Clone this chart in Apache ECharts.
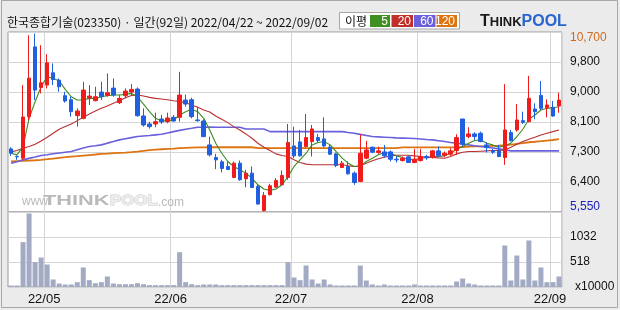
<!DOCTYPE html>
<html><head><meta charset="utf-8">
<script src="https://cdn.jsdelivr.net/npm/echarts@6/dist/echarts.min.js"></script>
<style>html,body{margin:0;padding:0;background:#ebebeb}#c{width:620px;height:310px}</style>
</head><body><div id="c"></div>
<script>
const title = '한국종합기술(023350) · 일간(92일) 2022/04/22 ~ 2022/09/02';
const dates = ['04/22','04/25','04/26','04/27','04/28','04/29',
'05/02','05/03','05/04','05/06','05/09','05/10','05/11','05/12','05/13','05/16','05/17','05/18','05/19','05/20','05/23','05/24','05/25','05/26','05/27','05/30','05/31',
'06/02','06/03','06/07','06/08','06/09','06/10','06/13','06/14','06/15','06/16','06/17','06/20','06/21','06/22','06/23','06/24','06/27','06/28','06/29','06/30',
'07/01','07/04','07/05','07/06','07/07','07/08','07/11','07/12','07/13','07/14','07/15','07/18','07/19','07/20','07/21','07/22','07/25','07/26','07/27','07/28','07/29',
'08/01','08/02','08/03','08/04','08/05','08/08','08/09','08/10','08/11','08/12','08/16','08/17','08/18','08/19','08/22','08/23','08/24','08/25','08/26','08/29','08/30','08/31',
'09/01','09/02'];
const open = [7356,7140,7090,8278,10274,9114,9181,9532,9323,8877,
8763,8307,8230,8810,8734,8981,8886,9095,8677,8877,
8981,9067,8297,8069,8069,8211,8135,8259,8259,8753,
8763,8183,8154,7470,7109,6985,6852,6539,6947,6500,
6662,6282,5588,6044,6263,6329,6539,7441,7556,7422,
7565,7679,7641,7403,7213,6824,6852,6662,6424,7090,
7403,7251,7270,7270,7061,7023,7128,6966,7023,7137,
7109,7299,7175,7204,7308,8211,7708,7784,7803,7470,
7308,7299,7109,7822,7898,8164,8135,8497,8886,8535,
8544,8582];
const close = [7232,7128,8268,9380,9038,9247,9818,9342,9133,8725,
8421,8440,9038,8867,8848,8848,8962,8896,8801,9010,
9057,8306,8040,7993,8135,8126,8240,8154,8896,8639,
8278,8164,7708,7185,7042,6795,6767,6947,6472,6662,
6253,5778,6025,6301,6453,6596,7537,7156,7156,7679,
7926,7594,7441,7204,6881,6947,6643,6396,7232,7327,
7261,7299,7156,7061,7042,7090,6966,7061,7137,7099,
7299,7156,7232,7299,7679,7489,7784,7708,7565,7394,
7261,7137,7898,7594,8183,8116,8801,8421,8516,8611,
8297,8753];
const low = [7156,7042,7042,8183,8753,8943,9086,9181,8991,8678,
8278,7993,8202,8610,8715,8753,8848,8848,8639,8801,
8896,8278,7993,7936,7974,8069,8088,8135,8135,8563,
8230,8135,7689,7137,6776,6681,6757,6520,6443,6253,
6234,5759,5569,6025,6234,6310,6472,7090,7137,7394,
7137,7537,7403,7185,6833,6805,6615,6329,6405,7061,
7232,7213,7109,6995,6966,6995,6957,6947,6995,7042,
7080,7118,7118,7156,7185,7422,7660,7613,7546,7251,
7213,7118,6900,7565,7850,8069,8116,8202,8468,8259,
8278,8392];
const high = [7403,7166,9181,10607,10654,10322,10065,9799,9371,8991,
8858,8516,9276,9181,9133,9276,9514,9371,8896,9086,
9209,9114,8516,8135,8392,8326,8392,8326,9561,8909,
8820,8563,8202,7708,7213,7042,6995,6995,7023,6757,
6852,6329,6120,6358,6519,6738,8069,7993,7898,8354,
8040,7784,8259,7470,7251,7014,6995,6710,7774,7584,
7422,7422,7470,7308,7156,7137,7156,7356,7356,7185,
7327,7422,7280,7375,7774,8211,7974,7831,7850,7546,
7356,7470,9209,7898,8639,8420,9447,8658,9295,8772,
8725,8962];
const ma5 = [7232,7185,7422,8230,8706,9133,9418,9371,9304,9057,
8848,8753,8753,8801,8801,8848,8877,8896,8896,8915,
8943,8848,8639,8420,8230,8154,8164,8183,8326,8420,
8487,8420,8230,7898,7518,7232,6995,6852,6757,6662,
6520,6329,6206,6168,6206,6329,6567,6852,7042,7232,
7470,7537,7565,7470,7280,7090,6947,6852,6852,6995,
7090,7185,7251,7232,7156,7109,7061,7042,7090,7118,
7137,7137,7156,7232,7346,7422,7518,7594,7613,7518,
7470,7403,7441,7518,7708,7917,8202,8326,8468,8516,
8535,8563];
const ma20 = [7270,7308,7375,7422,7489,7584,7689,7803,7917,7993,
8069,8164,8259,8354,8440,8516,8582,8658,8734,8820,
8886,8896,8867,8829,8801,8782,8763,8734,8715,8677,
8611,8544,8468,8411,8297,8202,8107,7993,7898,7784,
7660,7518,7403,7308,7213,7166,7137,7042,6966,6919,
6900,6900,6900,6900,6900,6900,6871,6852,6881,6947,
7014,7071,7118,7156,7175,7175,7175,7156,7137,7118,
7109,7099,7090,7137,7213,7261,7280,7280,7290,7299,
7308,7308,7327,7403,7489,7565,7632,7689,7755,7803,
7850,7898];
const ma60 = [6947,6990,7042,7085,7125,7166,7190,7215,7240,7260,
7280,7330,7380,7422,7445,7470,7520,7565,7613,7645,
7677,7708,7725,7740,7757,7774,7812,7850,7885,7917,
7945,7974,7974,7980,7974,7974,7974,7974,7974,7926,
7926,7926,7926,7850,7850,7850,7850,7850,7850,7850,
7850,7850,7850,7850,7850,7850,7826,7803,7770,7740,
7708,7700,7690,7680,7670,7665,7660,7655,7640,7625,
7613,7590,7565,7540,7518,7495,7470,7447,7425,7403,
7380,7356,7330,7299,7299,7299,7299,7299,7299,7299,
7299,7299];
const ma120 = [7000,7005,7010,7020,7030,7042,7060,7080,7100,7118,
7137,7150,7165,7180,7195,7213,7222,7232,7242,7251,
7261,7280,7300,7320,7335,7346,7356,7365,7375,7385,
7394,7398,7400,7403,7403,7403,7403,7403,7403,7403,
7403,7380,7380,7380,7380,7380,7380,7380,7380,7380,
7380,7380,7380,7380,7380,7380,7380,7380,7380,7380,
7380,7380,7380,7380,7380,7400,7400,7400,7400,7400,
7400,7400,7400,7400,7400,7410,7420,7425,7430,7435,
7440,7445,7460,7480,7500,7520,7546,7560,7575,7594,
7610,7632];
const volume = [31,31,926,1517,513,609,464,155,72,52,
52,100,403,141,79,100,217,72,58,58,
58,79,58,38,38,38,38,38,719,100,
58,38,52,52,52,38,38,38,38,38,
38,38,38,38,38,38,513,196,141,444,
155,72,155,52,31,31,31,31,444,134,
52,31,52,31,31,31,31,52,31,31,
31,31,31,31,114,175,72,52,31,31,
31,31,857,134,650,155,960,134,403,100,
100,217];
const priceTicks = ['5,550','6,400','7,300','8,100','9,000','9,800','10,700'];
const priceMin = 5550, priceMax = 10700;
const volTicks = ['x10000','518','1032',''];
const volMax = 1548;
const maLabels = ['5','20','60','120'];
const maColors = ['#3f8f22','#c03028','#6a60dc','#de7410'];

const isMonthStart = (i) => i > 0 && dates[i].slice(0,2) !== dates[i-1].slice(0,2);
const candles = dates.map((d, i) => [open[i], close[i], low[i], high[i]]);

const FONT = 'Liberation Sans';
const GL = 8, GR = 58;
const gridLine = '#d5d5d5';

const chart = echarts.init(document.getElementById('c'), null, {renderer: 'canvas'});

const legendEls = [];
const boxX = [370, 391.5, 414, 436.5], boxW = [20, 21.5, 21.5, 20.5];
legendEls.push({type:'rect', shape:{x:339.5, y:12.5, width:120, height:16.5}, style:{fill:'#fff', stroke:'#a6a6a6', lineWidth:1}});
legendEls.push({type:'text', x:345, y:21, style:{text:'이평', font:'12px "Noto Sans CJK KR"', fill:'#111', verticalAlign:'middle'}});
maLabels.forEach((t, k) => {
  legendEls.push({type:'rect', shape:{x:boxX[k], y:15, width:boxW[k], height:12}, style:{fill:maColors[k]}});
  legendEls.push({type:'text', x:boxX[k] + boxW[k] - 2, y:21.5, style:{text:t, font:'12px ' + FONT, fill:'#fff', align:'right', verticalAlign:'middle'}});
});

const option = {
  animation: false,
  backgroundColor: '#ebebeb',
  grid: [
    {left: GL, right: GR, top: 32, height: 180, show: true, backgroundColor: '#fff', borderColor: '#9a9a9a', borderWidth: 1},
    {left: GL, right: GR, top: 212, height: 75, show: true, backgroundColor: '#fff', borderColor: '#9a9a9a', borderWidth: 1}
  ],
  xAxis: [
    {type:'category', gridIndex:0, data:dates, boundaryGap:true,
     axisLine:{show:false}, axisTick:{show:false}, axisLabel:{show:false},
     splitLine:{show:true, interval:(i)=>isMonthStart(i), lineStyle:{color:gridLine, width:1}}},
    {type:'category', gridIndex:1, data:dates, boundaryGap:true,
     axisLine:{show:false}, axisTick:{show:false},
     axisLabel:{show:true, interval:(i)=>isMonthStart(i), formatter:(v)=>'22/' + v.slice(0,2),
       fontFamily:FONT, fontSize:13, color:'#111', margin:6, padding:[0,6,0,0]},
     splitLine:{show:true, interval:(i)=>isMonthStart(i), lineStyle:{color:gridLine, width:1}}}
  ],
  yAxis: [
    {type:'value', gridIndex:0, min:priceMin, max:priceMax, show:false},
    {type:'value', gridIndex:0, min:0, max:priceTicks.length-1, interval:1, position:'right',
     axisLine:{show:false}, axisTick:{show:false},
     splitLine:{show:true, lineStyle:{color:gridLine, width:1}},
     axisLabel:{margin:8, fontFamily:FONT, fontSize:12, color:'#111',
       formatter:(v)=>{
         const t = priceTicks[v];
         if (v === priceTicks.length-1) return '{top|' + t + '}';
         if (v === 0) return '{bot|' + t + '}';
         return t;
       },
       rich:{
         top:{fontFamily:FONT, fontSize:12, color:'#d0691c', padding:[12,0,0,0]},
         bot:{fontFamily:FONT, fontSize:12, color:'#1c20b8', padding:[0,0,11,0]}
       }}},
    {type:'value', gridIndex:1, min:0, max:volMax, show:false},
    {type:'value', gridIndex:1, min:0, max:volTicks.length-1, interval:1, position:'right',
     axisLine:{show:false}, axisTick:{show:false},
     splitLine:{show:true, lineStyle:{color:gridLine, width:1}},
     axisLabel:{margin:8, fontFamily:FONT, fontSize:12, color:'#111',
       formatter:(v)=> v === 0 ? '{u|' + volTicks[0] + '}' : volTicks[v],
       rich:{u:{fontFamily:FONT, fontSize:12, color:'#111', padding:[0,0,0,5]}}}}
  ],
  series: [
    {type:'line', xAxisIndex:0, yAxisIndex:0, data:ma120, symbol:'none', z:2, lineStyle:{color:maColors[3], width:1.8}},
    {type:'line', xAxisIndex:0, yAxisIndex:0, data:ma60, symbol:'none', z:2, lineStyle:{color:maColors[2], width:1.6}},
    {type:'line', xAxisIndex:0, yAxisIndex:0, data:ma20, symbol:'none', z:2, lineStyle:{color:'#b83030', width:1.1}},
    {type:'line', xAxisIndex:0, yAxisIndex:0, data:ma5, symbol:'none', z:2, lineStyle:{color:'#3c8c20', width:1.1}},
    {type:'candlestick', xAxisIndex:0, yAxisIndex:0, data:candles, barWidth:4, z:3,
     itemStyle:{color:'#f01c1c', color0:'#1f5fe0', borderColor:'#f01c1c', borderColor0:'#1f5fe0', borderWidth:1}},
    {type:'bar', xAxisIndex:1, yAxisIndex:2, data:volume, barWidth:5, itemStyle:{color:'#a3abc4'}}
  ],
  graphic: [
    {type:'rect', z:0, silent:true, shape:{x:1.5, y:0.5, width:616, height:307}, style:{fill:'none', stroke:'#a8a8a8', lineWidth:1}},
    {type:'text', x:7, y:22, style:{text:title, font:'12px "Noto Sans CJK KR"', fill:'#111', verticalAlign:'middle'}},
    ...legendEls,
    {type:'text', x:480, y:22, style:{text:'{t|T}{h|HINK}{p|POOL}', verticalAlign:'middle',
      rich:{t:{font:'bold 16px ' + FONT, fill:'#1a1a1a'}, h:{font:'bold 13px ' + FONT, fill:'#1a1a1a'}, p:{font:'bold 16px ' + FONT, fill:'#2a64cf'}}}},
    {type:'text', x:22, y:202, z:1, style:{text:'www.', font:'12px ' + FONT, fill:'#b9b9b9', verticalAlign:'middle'}},
    {type:'text', x:43, y:201, z:1, scaleX:1.45, style:{text:'THINK', font:'bold 15px ' + FONT, fill:'#bababa', verticalAlign:'middle'}},
    {type:'text', x:110, y:201, z:1, scaleX:1.12, style:{text:'POOL', font:'bold 15px ' + FONT, fill:'#eeeeee', stroke:'#c6c6c6', lineWidth:1, verticalAlign:'middle'}},
    {type:'text', x:158, y:203, z:1, style:{text:'.com', font:'12px ' + FONT, fill:'#b9b9b9', verticalAlign:'middle'}}
  ]
};
chart.setOption(option);
</script>
</body></html>
